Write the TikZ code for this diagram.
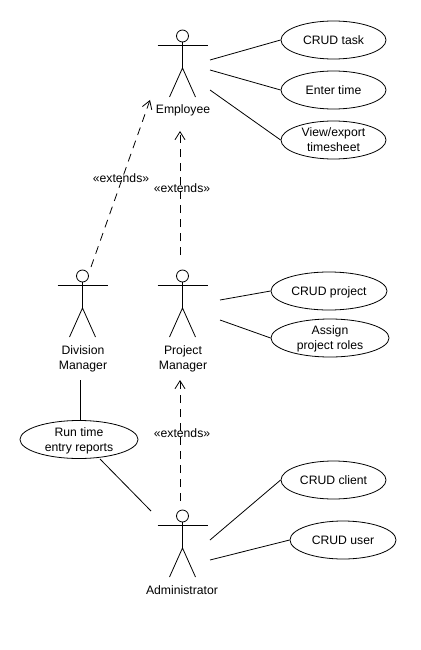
\documentclass[tikz,border=0pt]{standalone}
\usepackage{fontspec}
\setmainfont{Liberation Sans}
\usetikzlibrary{
    arrows.meta,
    shapes.geometric
}
\tikzset{
  every path/.style={
    black,
    line width=0.8pt
  },
  every node/.style={
    font=\fontsize{12.2}{15}\selectfont,
    align=center,
    inner sep=0pt
  },
  usecase/.style={
    draw,
    ellipse,
    text depth=-2pt,
    minimum height=38pt
  },
  extends/.style={
    dash pattern=on 8pt off 6pt,
    -{Straight Barb[length=8pt,width=10pt]}
  },
  actor/.pic={
    \draw (0,-6) circle (6);
    \draw (-25,3) -- (25,3);
    \draw (0,0) -- (0,26) (-13,55) -- (0,26) -- (13,55);
  }
}

\begin{document}
\begin{tikzpicture}[x=1pt, y=-1pt]
    \useasboundingbox (0,0) rectangle (420,650);

    % actors
    \pic at (182.5,42) {actor};
    \pic at (82.5,282) {actor};
    \pic at (182.5,282) {actor};
    \pic at (182.5,522) {actor};
    \node (Employee) at (183,110.5) {Employee};
    \node (Division) at (83,358.5) {Division\\Manager};
    \node (Project) at (183,358.5) {Project\\Manager};
    \node (Admin) at (182,590) {Administrator};

    % use cases
    \node[usecase, minimum width=105pt] (Task) at (333.5,40) {CRUD task};
    \node[usecase, minimum width=105pt] (Time) at (333.5,90) {Enter time};
    \node[usecase, minimum width=105pt] (Sheet) at (333.5,140) {View/export\\timesheet};
    \node[usecase, minimum width=116pt] (CrudProject) at (329,291) {CRUD project};
    \node[usecase, minimum width=118pt] (Roles) at (330,338) {Assign\\project roles};
    \node[usecase, minimum width=118pt] (Reports) at (79,439.5) {Run time\\entry reports};
    \node[usecase, minimum width=105pt] (Client) at (333.5,480) {CRUD client};
    \node[usecase, minimum width=106pt] (User) at (343,540) {CRUD user};

    % free ends
    \coordinate (E1) at (210,60);
    \coordinate (E2) at (210,70);
    \coordinate (E3) at (210,90);
    \coordinate (P1) at (220,300);
    \coordinate (P2) at (220,320);
    \coordinate (A1) at (210,540);
    \coordinate (A2) at (210,560);
    \coordinate (A3) at (151,511);
    \coordinate (D1) at (80,380);
    \coordinate (R1) at (100,459);
    \coordinate (ToEmployeeD) at (150,100);
    \coordinate (FromDivision) at (91,267);
    \coordinate (ToEmployeeP) at (180,131);
    \coordinate (FromProject) at (180,255);
    \coordinate (ToProject) at (180,380);
    \coordinate (FromAdmin) at (180,501);

    % associations
    \draw (E1) -- (Task.west);
    \draw (E2) -- (Time.west);
    \draw (E3) -- (Sheet.west);
    \draw (P1) -- (CrudProject.west);
    \draw (P2) -- (Roles.west);
    \draw (A1) -- (Client.west);
    \draw (A2) -- (User.west);
    \draw (D1) -- (Reports.north -| D1);
    \draw (R1) -- (A3);

    % extends
    \draw[extends] (FromDivision) -- (ToEmployeeD);
    \draw[extends] (FromProject) -- (ToEmployeeP);
    \draw[extends] (FromAdmin) -- (ToProject);
    \node (ExtendsD) at (121,178) {«extends»};
    \node (ExtendsP) at (182,188) {«extends»};
    \node (ExtendsA) at (182,433) {«extends»};
\end{tikzpicture}
\end{document}
